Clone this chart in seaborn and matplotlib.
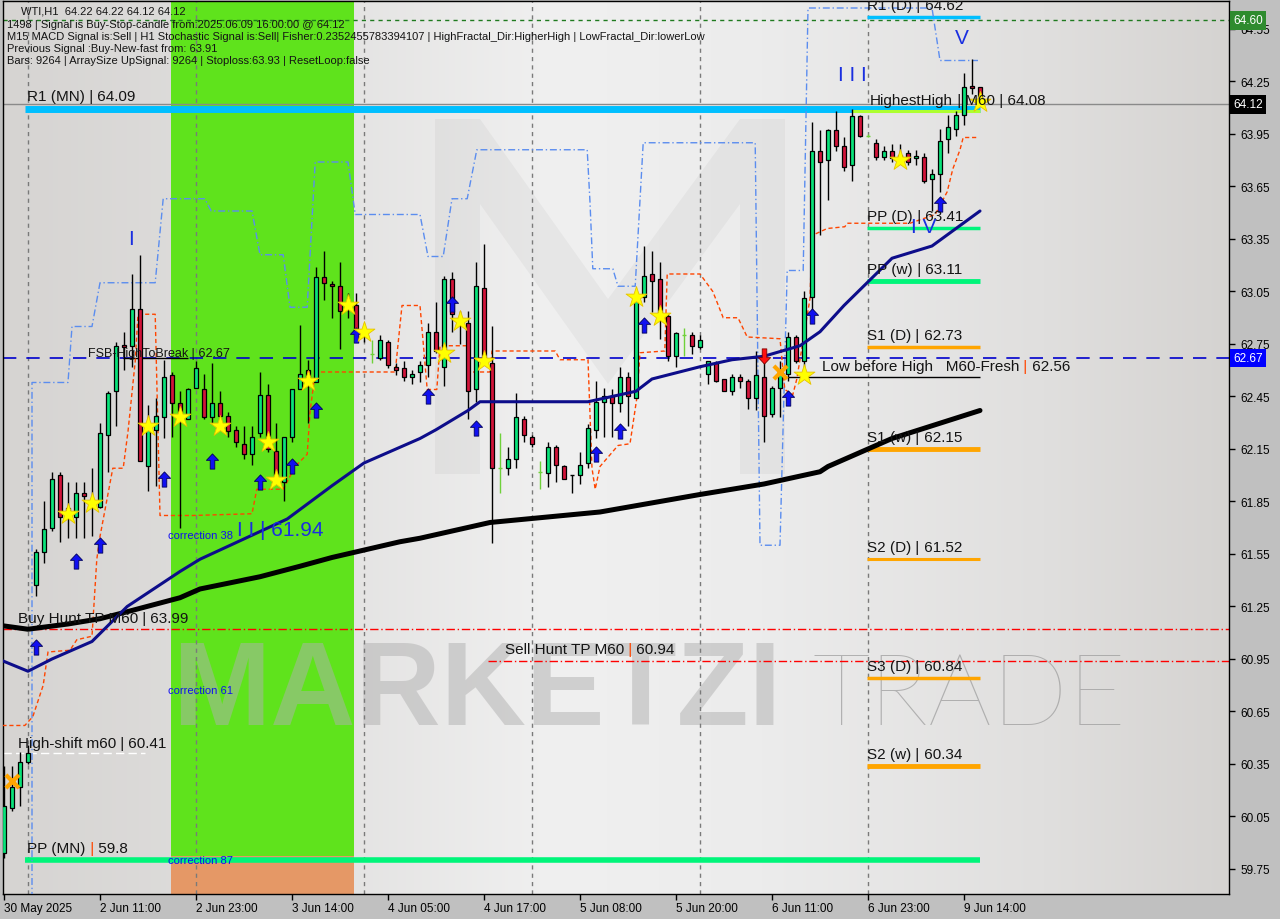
import matplotlib
matplotlib.use("Agg")
import matplotlib.pyplot as plt
import matplotlib.transforms as mtransforms
from matplotlib.path import Path
from matplotlib.patches import Rectangle, Polygon
import numpy as np
import pandas as pd
import seaborn as sns

# ---------------- data ----------------
opens = [59.84, 60.10, 60.22, 60.36, 61.37, 61.56, 61.70, 62.00, 61.78, 61.76,
         61.90, 61.85, 61.82, 62.23, 62.48, 62.74, 62.74, 62.95, 62.05, 62.26,
         62.33, 62.57, 62.41, 62.32, 62.50, 62.49, 62.33, 62.41, 62.34, 62.26,
         62.18, 62.12, 62.24, 62.46, 62.14, 61.96, 62.22, 62.49, 62.60, 62.53,
         63.13, 63.09, 63.08, 62.99, 62.97, 62.82, 62.69, 62.67, 62.76, 62.62,
         62.61, 62.56, 62.59, 62.63, 62.82, 62.62, 63.12, 62.90, 62.87, 62.49,
         63.07, 62.64, 62.04, 62.04, 62.09, 62.32, 62.22, 62.02, 62.01, 62.16,
         62.05, 62.00, 62.00, 62.07, 62.26, 62.42, 62.45, 62.41, 62.56, 62.44,
         63.02, 63.15, 63.12, 62.91, 62.68, 62.80, 62.80, 62.73, 62.58, 62.64,
         62.55, 62.48, 62.56, 62.54, 62.44, 62.56, 62.35, 62.50, 62.58, 62.79,
         62.65, 63.02, 63.85, 63.80, 63.97, 63.88, 63.77, 64.05, 63.94, 63.90,
         63.82, 63.85, 63.82, 63.84, 63.81, 63.82, 63.69, 63.72, 63.92, 63.98,
         64.06, 64.22, 64.22]
highs = [60.34, 60.34, 60.42, 60.46, 61.58, 61.85, 62.02, 62.02, 61.96, 61.96,
         61.96, 62.04, 62.30, 62.48, 62.76, 62.82, 63.15, 63.26, 62.40, 62.44,
         62.66, 62.59, 62.48, 62.50, 62.65, 62.58, 62.64, 62.48, 62.36, 62.28,
         62.28, 62.28, 62.59, 62.52, 62.30, 62.22, 62.49, 62.86, 62.66, 63.19,
         63.28, 63.11, 63.22, 63.04, 63.04, 62.85, 62.77, 62.80, 62.77, 62.64,
         62.65, 62.60, 62.65, 62.87, 62.99, 63.14, 63.16, 62.94, 62.94, 63.22,
         63.32, 62.85, 62.24, 62.16, 62.47, 62.34, 62.23, 62.08, 62.19, 62.17,
         62.06, 62.00, 62.13, 62.29, 62.54, 62.50, 62.49, 62.62, 62.59, 63.04,
         63.31, 63.28, 63.22, 62.92, 62.82, 62.84, 62.82, 62.80, 62.65, 62.65,
         62.55, 62.58, 62.58, 62.55, 62.71, 62.68, 62.51, 62.65, 62.82, 62.80,
         63.05, 64.02, 63.97, 63.98, 64.08, 63.93, 64.09, 64.06, 63.95, 63.92,
         63.88, 63.89, 63.89, 63.86, 63.86, 63.84, 63.75, 63.98, 64.06, 64.08,
         64.30, 64.38, 64.22]
lows = [59.81, 60.08, 60.11, 60.35, 61.31, 61.50, 61.68, 61.62, 61.64, 61.64,
        61.64, 61.65, 61.81, 62.02, 62.28, 62.60, 62.62, 62.08, 61.91, 61.94,
        62.21, 62.22, 61.70, 62.32, 62.50, 62.32, 62.29, 62.29, 62.22, 62.16,
        62.09, 62.06, 62.22, 62.13, 61.98, 61.85, 62.19, 62.49, 62.30, 62.53,
        63.00, 62.90, 62.72, 62.90, 62.82, 62.76, 62.64, 62.66, 62.61, 62.57,
        62.54, 62.52, 62.53, 62.56, 62.70, 62.51, 62.82, 62.75, 62.32, 62.42,
        62.66, 61.61, 61.90, 62.00, 62.04, 62.19, 62.16, 61.92, 61.93, 61.96,
        61.98, 61.90, 61.95, 62.04, 62.21, 62.22, 62.22, 62.36, 62.28, 62.44,
        62.99, 62.93, 62.78, 62.65, 62.62, 62.68, 62.69, 62.72, 62.52, 62.53,
        62.48, 62.46, 62.50, 62.38, 62.37, 62.19, 62.33, 62.33, 62.54, 62.64,
        62.62, 62.93, 63.37, 63.57, 63.85, 63.74, 63.68, 63.93, 63.93, 63.80,
        63.80, 63.79, 63.78, 63.77, 63.77, 63.67, 63.51, 63.62, 63.84, 63.94,
        64.00, 64.18, 64.12]
closes = [60.11, 60.22, 60.36, 60.41, 61.56, 61.69, 61.98, 61.76, 61.81, 61.90,
          61.88, 61.82, 62.24, 62.47, 62.74, 62.73, 62.95, 62.08, 62.28, 62.34,
          62.56, 62.41, 62.36, 62.49, 62.61, 62.33, 62.41, 62.34, 62.25, 62.19,
          62.12, 62.22, 62.46, 62.15, 62.00, 62.22, 62.49, 62.58, 62.56, 63.13,
          63.10, 63.08, 62.94, 62.96, 62.82, 62.80, 62.69, 62.77, 62.63, 62.60,
          62.56, 62.58, 62.63, 62.82, 62.71, 63.12, 62.92, 62.86, 62.48, 63.08,
          62.67, 62.04, 62.04, 62.09, 62.33, 62.23, 62.18, 62.02, 62.16, 62.06,
          61.98, 62.00, 62.06, 62.27, 62.42, 62.45, 62.41, 62.56, 62.45, 63.01,
          63.14, 63.11, 62.91, 62.68, 62.81, 62.80, 62.74, 62.77, 62.65, 62.54,
          62.48, 62.56, 62.54, 62.44, 62.57, 62.34, 62.50, 62.59, 62.79, 62.65,
          63.01, 63.85, 63.79, 63.97, 63.88, 63.76, 64.05, 63.94, 63.94, 63.82,
          63.85, 63.81, 63.83, 63.79, 63.82, 63.68, 63.72, 63.91, 63.99, 64.06,
          64.22, 64.21, 64.12]

x_tick_bars = [0, 12, 24, 36, 48, 60, 72, 84, 96, 108, 120]
x_tick_labels = ["30 May 2025", "2 Jun 11:00", "2 Jun 23:00", "3 Jun 14:00",
                 "4 Jun 05:00", "4 Jun 17:00", "5 Jun 08:00", "5 Jun 20:00",
                 "6 Jun 11:00", "6 Jun 23:00", "9 Jun 14:00"]
y_ticks = [59.75, 60.05, 60.35, 60.65, 60.95, 61.25, 61.55, 61.85, 62.15,
           62.45, 62.75, 63.05, 63.35, 63.65, 63.95, 64.25, 64.55]
separator_bars = [3, 24, 45, 66, 87, 108]

ma_fast_bars = [-0.2, 3, 6, 11, 15.4, 22, 24.5, 35.4, 41, 45, 52, 54, 58, 59.5,
                69, 73, 79, 81, 87, 91, 95, 99.5, 102, 105, 111, 116, 122]
ma_fast_vals = [60.94, 60.88, 60.95, 61.05, 61.25, 61.45, 61.52, 61.75, 61.94,
                62.07, 62.21, 62.26, 62.37, 62.42, 62.42, 62.42, 62.48, 62.55,
                62.62, 62.66, 62.68, 62.74, 62.82, 62.97, 63.24, 63.31, 63.51]
ma_slow_bars = [-0.2, 3, 8, 12, 15.4, 22, 24.5, 32, 37, 41, 49.5, 52, 60.75,
                74.5, 87, 95, 102, 103, 111, 122]
ma_slow_vals = [61.14, 61.12, 61.15, 61.18, 61.22, 61.30, 61.35, 61.42, 61.48,
                61.53, 61.62, 61.64, 61.73, 61.79, 61.89, 61.95, 62.02, 62.05,
                62.21, 62.37]

upper_bars = [3.5, 3.5, 8, 8.5, 11, 12, 18.9, 19.9, 25.1, 25.9, 31, 32, 34.9,
              35.75, 37.9, 38.9, 43, 43.9, 52, 53, 54.9, 56, 57.9, 59.1, 72.9,
              73.25, 73.6, 76.1, 76.75, 78.9, 79.9, 93.9, 94.5, 97, 97.9, 99.9,
              100.5, 116, 117, 121.75]
upper_vals = [59.50, 62.53, 62.53, 62.85, 62.85, 63.10, 63.10, 63.58, 63.58,
              63.51, 63.51, 63.26, 63.26, 62.96, 62.96, 63.79, 63.79, 63.49,
              63.49, 63.25, 63.25, 63.58, 63.58, 63.86, 63.86, 63.56, 63.18,
              63.18, 63.08, 63.08, 63.90, 63.90, 61.60, 61.60, 63.17, 63.17,
              64.67, 64.67, 64.37, 64.37]

lower_bars = [-0.2, 2.6, 3.6, 4.9, 5.5, 8.25, 9.1, 11, 11.6, 12, 13.6, 14.9,
              15.5, 16.4, 16.75, 18.9, 19.5, 23.6, 31, 31.6, 34.9, 36.4, 37.9,
              38.25, 38.9, 48.9, 49.75, 52, 52.9, 54.1, 54.5, 58, 58.25, 60.75,
              61, 68.9, 69.5, 73, 73.5, 73.9, 74.5, 76.75, 78.25, 79.1, 79.5,
              82.6, 82.9, 87, 88.6, 89.9, 91.75, 92.9, 97, 97.6, 98.6, 99.1,
              100.75, 101, 102.9, 105.1, 105.4, 113.25, 116.4, 117.9, 118.6,
              119.5, 119.9, 121.75]
lower_vals = [60.57, 60.57, 60.62, 60.80, 60.99, 61.00, 61.06, 61.08, 61.52,
              61.65, 62.04, 62.04, 62.25, 62.65, 62.92, 62.92, 61.77, 61.77,
              61.78, 61.92, 61.92, 62.05, 62.12, 62.36, 62.59, 62.59, 62.97,
              62.97, 62.49, 62.49, 62.74, 62.74, 62.59, 62.59, 62.71, 62.71,
              62.66, 62.66, 62.04, 61.92, 62.05, 62.17, 62.18, 62.44, 62.70,
              62.71, 63.15, 63.15, 63.05, 62.90, 62.90, 62.79, 62.78, 62.49,
              62.46, 62.55, 63.01, 63.37, 63.41, 63.42, 63.44, 63.44, 63.49,
              63.62, 63.75, 63.86, 63.93, 63.93]

up_arrow_bars = [4, 9, 12, 20, 26, 32, 36, 39, 44, 53, 56, 59, 74, 77, 80, 98, 101, 117]
up_arrow_prices = [61.02, 61.51, 61.60, 61.98, 62.08, 61.96, 62.05, 62.37, 62.80,
                   62.45, 62.98, 62.27, 62.12, 62.25, 62.86, 62.44, 62.91, 63.55]
star_bars = [8, 11, 18, 22, 27, 33, 34, 38, 43, 45, 55, 57, 60, 79, 82, 100, 112, 122]
star_prices = [61.78, 61.84, 62.28, 62.33, 62.28, 62.19, 61.97, 62.54, 62.97,
               62.82, 62.70, 62.88, 62.65, 63.02, 62.91, 62.57, 63.80, 64.13]
cross_bars = [1, 97]
cross_prices = [60.25, 62.59]
down_arrow_bars = [95]
down_arrow_prices = [62.68]

pivot_names = ["R1 (D)", "PP (D)", "PP (w)", "S1 (D)", "S1 (w)", "S2 (D)", "S3 (D)", "S2 (w)"]
pivot_values = [64.62, 63.41, 63.11, 62.73, 62.15, 61.52, 60.84, 60.34]
monthly_names = ["R1 (MN)", "PP (MN)"]
monthly_values = [64.09, 59.8]

buy_hunt_line = 61.12
buy_hunt_value = 63.99
sell_hunt_value = 60.94
high_shift_value = 60.41
fsb_value = 62.67
low_before_high_value = 62.56
highest_high_value = 64.08
last_price = 64.12
signal_price = 64.60

wave_labels = ["I", "I I I", "V", "I V"]
wave_bars = [15.9, 106, 119.75, 114.9]
wave_prices = [63.35, 64.29, 64.50, 63.42]
wave2_text = "I I | 61.94"
correction_labels = ["correction 38", "correction 61", "correction 87"]
correction_prices = [61.66, 60.77, 59.80]

header_lines = [
    "1498 | Signal is Buy-Stop-candle from:2025.06.09 16:00:00 @ 64.12",
    "M15 MACD Signal is:Sell | H1 Stochastic Signal is:Sell| Fisher:0.2352455783394107 | HighFractal_Dir:HigherHigh | LowFractal_Dir:lowerLow",
    "Previous Signal :Buy-New-fast from: 63.91",
    "Bars: 9264 | ArraySize UpSignal: 9264 | Stoploss:63.93 | ResetLoop:false",
]
title_line = "WTI,H1  64.22 64.22 64.12 64.12"

# ---------------- styling / figure ----------------
sns.set_theme(style="white")
plt.rcParams['font.family'] = ['Liberation Sans', 'DejaVu Sans']
plt.rcParams['axes.unicode_minus'] = False

W, H = 1280, 920
fig = plt.figure(figsize=(W / 100, H / 100), dpi=100, facecolor='#c0c0c0')
ax = fig.add_axes([3 / W, 25 / H, 1226 / W, 893 / H])
X0, X1 = -0.125, 153.125
Y0, Y1 = 59.607, 64.710

# background gradient
gpos = [0, 0.22, 0.45, 0.62, 0.85, 1.0]
gcol = np.array([[214, 212, 210], [224, 223, 222], [240, 240, 240],
                 [236, 236, 236], [224, 223, 222], [213, 211, 209]]) / 255.0
xs = np.linspace(0, 1, 512)
grad = np.stack([np.interp(xs, gpos, gcol[:, k]) for k in range(3)], axis=-1)[None, :, :]
ax.imshow(grad, extent=[X0, X1, Y0, Y1], aspect='auto', zorder=0, interpolation='bilinear')

# green signal band + salmon foot
ax.axvspan(20.9, 43.75, color='#5fe31c', zorder=1, lw=0)
ax.add_patch(Rectangle((20.9, Y0), 43.75 - 20.9, 59.824 - Y0, color='#e59866', zorder=1.1, lw=0))

# watermark
def px(x, y):
    return (x / W, 1 - y / H)
mpoly = [px(435, 475), px(435, 120), px(480, 120), px(608, 300), px(740, 120),
         px(785, 120), px(785, 475), px(740, 475), px(740, 205), px(608, 385),
         px(480, 205), px(480, 475)]
ax.add_patch(Polygon(mpoly, closed=True, transform=fig.transFigure,
                     facecolor='black', alpha=0.035, lw=0, zorder=1.2))
ax.text(*px(172, 725), "MARKETZI", transform=fig.transFigure, fontsize=85,
        fontweight='bold', color='#b0b0b0', alpha=0.5, va='baseline', ha='left', zorder=1.3)
ax.text(*px(812, 725), "TRADE", transform=fig.transFigure, fontsize=72,
        fontweight='light', family=['Lato', 'Liberation Sans'], color='#9a9a9a',
        alpha=0.7, va='baseline', ha='left', zorder=1.3)

# separators
for b in separator_bars:
    ax.axvline(b, color='#7a7a7a', lw=1, linestyle=(0, (3, 3)), zorder=2)

# horizontal levels
ax.axhline(signal_price, color='#1f7a1f', lw=1, linestyle=(0, (3, 3)), zorder=2.5)
ax.axhline(last_price, color='#8a8a8a', lw=1, zorder=2.5)
ax.axhline(fsb_value, color='#0000cd', lw=1.2, linestyle=(0, (8, 6)), zorder=2.5)
ax.axhline(buy_hunt_line, color='#ff0000', lw=1, linestyle=(0, (6, 2, 1, 2)), zorder=2.5)
ax.hlines(sell_hunt_value, 60.5, X1, color='#ff0000', lw=1, linestyle=(0, (6, 2, 1, 2)), zorder=2.5)
ax.hlines(high_shift_value, X0, 17.6, color='white', lw=1, linestyle=(0, (6, 3)), zorder=2.5)
ax.hlines(fsb_value, 14.9, 23, color='black', lw=1, zorder=2.6)
ax.hlines(low_before_high_value, 97.9, 122, color='black', lw=1, zorder=2.6)

pivot_colors = {'R': '#00bfff', 'P': '#00f57a', 'S': '#ffa500'}
pivot_lw = [2.5, 2.5, 3.5, 2.5, 3.5, 2.2, 2.5, 3.5]
for name, val, lw in zip(pivot_names, pivot_values, pivot_lw):
    ax.hlines(val, 107.9, 122, color=pivot_colors[name[0]], lw=lw, zorder=3)
ax.hlines(monthly_values[0], 2.6, 122, color='#00bfff', lw=5, zorder=3)
ax.hlines(monthly_values[1], 2.6, 122, color='#00f57a', lw=4, zorder=3)
ax.hlines(highest_high_value, 106, 122, color='#adff2f', lw=2.2, zorder=3.1)

# channel lines & moving averages (seaborn)
sns.lineplot(x=upper_bars, y=upper_vals, sort=False, estimator=None, ax=ax,
             color='#5b8def', lw=1, linestyle=(0, (5, 2, 1, 2)), zorder=4)
sns.lineplot(x=lower_bars, y=lower_vals, sort=False, estimator=None, ax=ax,
             color='#ff4500', lw=1, linestyle=(0, (3, 2)), zorder=4)

# candles
df = pd.DataFrame({'bar': np.arange(len(opens)), 'open': opens, 'high': highs,
                   'low': lows, 'close': closes})
BULL, BEAR, DOJI = '#0ae37a', '#d2143a', '#6fd13a'
dark_doji = {71}
for r in df.itertuples():
    is_doji = abs(r.close - r.open) < 0.005
    wc = DOJI if (is_doji and r.bar not in dark_doji) else 'black'
    ax.vlines(r.bar, r.low, r.high, color=wc, lw=1, zorder=5)
    if is_doji:
        ax.hlines(r.close, r.bar - 0.31, r.bar + 0.31, color=wc, lw=1, zorder=5.1)
bull = df[(df.close - df.open) >= 0.005]
bear = df[(df.open - df.close) >= 0.005]
ax.bar(bull.bar, (bull.close - bull.open).clip(lower=0.012), bottom=bull.open,
       width=0.62, color=BULL, edgecolor='black', linewidth=0.9, zorder=5.2)
ax.bar(bear.bar, (bear.open - bear.close).clip(lower=0.012), bottom=bear.close,
       width=0.62, color=BEAR, edgecolor='black', linewidth=0.9, zorder=5.2)

sns.lineplot(x=ma_slow_bars, y=ma_slow_vals, sort=False, estimator=None, ax=ax,
             color='black', lw=3.6, zorder=6)
sns.lineplot(x=ma_fast_bars, y=ma_fast_vals, sort=False, estimator=None, ax=ax,
             color='#0d0d8a', lw=2.2, zorder=6.1)

# markers
arrow_up = Path([(0, 1.0), (0.8, 0.15), (0.3, 0.15), (0.3, -1.0), (-0.3, -1.0),
                 (-0.3, 0.15), (-0.8, 0.15), (0, 1.0)], closed=True)
arrow_dn = Path([(x, -y) for x, y in arrow_up.vertices], closed=True)
ax.scatter(up_arrow_bars, up_arrow_prices, marker=arrow_up, s=120, color='#1010f0',
           edgecolor='#00005a', linewidths=0.6, zorder=7)
ax.scatter(down_arrow_bars, down_arrow_prices, marker=arrow_dn, s=120, color='#ff1010',
           edgecolor='#800000', linewidths=0.6, zorder=7)
sns.scatterplot(x=star_bars, y=star_prices, marker='*', s=250, color='#ffff00',
                edgecolor='#e6c200', linewidth=0.6, ax=ax, zorder=7.1)
ax.scatter(cross_bars, cross_prices, marker='x', s=90, color='#ffa500', linewidths=3, zorder=7.2)

# labels
DARK = '#141414'
ORB = '#ff4500'
def chain(x, y, parts, off=4, fs=11, clip=False):
    prev = None
    for s, col in parts:
        if prev is None:
            t = ax.annotate(s, xy=(x, y), xycoords='data', xytext=(0, off),
                            textcoords='offset pixels', ha='left', va='bottom',
                            color=col, fontsize=fs, zorder=9, annotation_clip=False,
                            clip_on=clip)
        else:
            t = ax.annotate(s, xy=(1, 0), xycoords=prev, ha='left', va='bottom',
                            color=col, fontsize=fs, zorder=9, annotation_clip=False,
                            clip_on=clip)
        prev = t

for name, val in zip(pivot_names, pivot_values):
    chain(107.9, val, [(name, DARK), (" |", DARK), (" %g" % val, DARK)],
          off=5, clip=(name == "R1 (D)"))
chain(2.9, monthly_values[0], [(monthly_names[0], DARK), (" |", DARK), (" %g" % monthly_values[0], DARK)], off=6)
chain(2.9, monthly_values[1], [(monthly_names[1], DARK), (" |", ORB), (" %g" % monthly_values[1], DARK)], off=5)
chain(1.7, buy_hunt_line, [("Buy Hunt TP M60", DARK), (" |", DARK), (" %g" % buy_hunt_value, DARK)], off=4)
chain(62.6, sell_hunt_value, [("Sell Hunt TP M60", DARK), (" |", ORB), (" %g" % sell_hunt_value, DARK)], off=5)
chain(1.7, high_shift_value, [("High-shift m60", DARK), (" |", DARK), (" %g" % high_shift_value, DARK)], off=3)
chain(10.5, fsb_value, [("FSB-HighToBreak", DARK), (" |", DARK), (" %g" % fsb_value, DARK)], off=-1, fs=9)
chain(102.25, low_before_high_value, [("Low before High   M60-Fresh", DARK), (" |", ORB), (" %g" % low_before_high_value, DARK)], off=4)
chain(108.25, highest_high_value, [("HighestHigh", DARK), (" |", DARK), (" M60 | %g" % highest_high_value, DARK)], off=4)

for lab, b, p in zip(wave_labels, wave_bars, wave_prices):
    ax.text(b, p, lab, color='#1a2fe0', fontsize=15, ha='center', va='center', zorder=9)
ax.text(29.1, 61.69, wave2_text, color='#1a2fe0', fontsize=15, ha='left', va='center', zorder=9)
for lab, p in zip(correction_labels, correction_prices):
    ax.text(20.5, p, lab, color='#1010f0', fontsize=8, ha='left', va='center', zorder=9)

# right-side price tags
btrans = mtransforms.blended_transform_factory(ax.transAxes, ax.transData)
for val, col in [(signal_price, '#2e8b2e'), (last_price, '#000000'), (fsb_value, '#0000ff')]:
    ax.text(1.0036, val, "%.2f" % val, transform=btrans, color='white', fontsize=8.5,
            ha='left', va='center', clip_on=False, zorder=20,
            bbox=dict(boxstyle='square,pad=0.28', fc=col, ec='none'))

# axes
ax.set_xlim(X0, X1)
ax.set_ylim(Y0, Y1)
ax.yaxis.tick_right()
ax.set_yticks(y_ticks)
ax.set_yticklabels(["%.2f" % v for v in y_ticks])
ax.set_xticks(x_tick_bars)
ax.set_xticklabels(x_tick_labels)
for lbl in ax.get_xticklabels():
    lbl.set_horizontalalignment('left')
ax.tick_params(axis='y', which='both', right=True, left=False, direction='out',
               length=4, width=1, pad=4, labelsize=8.5, colors='black')
ax.tick_params(axis='x', which='both', bottom=True, direction='out', length=4,
               width=1, pad=2, labelsize=8.5, colors='black')
ax.set_xlabel("")
ax.set_ylabel("")
for s in ax.spines.values():
    s.set_visible(True)
    s.set_color('black')
    s.set_linewidth(1)
ax.grid(False)

# header text block
fig.text(*px(21, 12), title_line, fontsize=8, color=DARK, va='center', ha='left')
for k, line in enumerate(header_lines):
    fig.text(*px(7, 25 + 12 * k), line, fontsize=8, color=DARK, va='center', ha='left')

fig.savefig('out.png', dpi=100, facecolor=fig.get_facecolor())
